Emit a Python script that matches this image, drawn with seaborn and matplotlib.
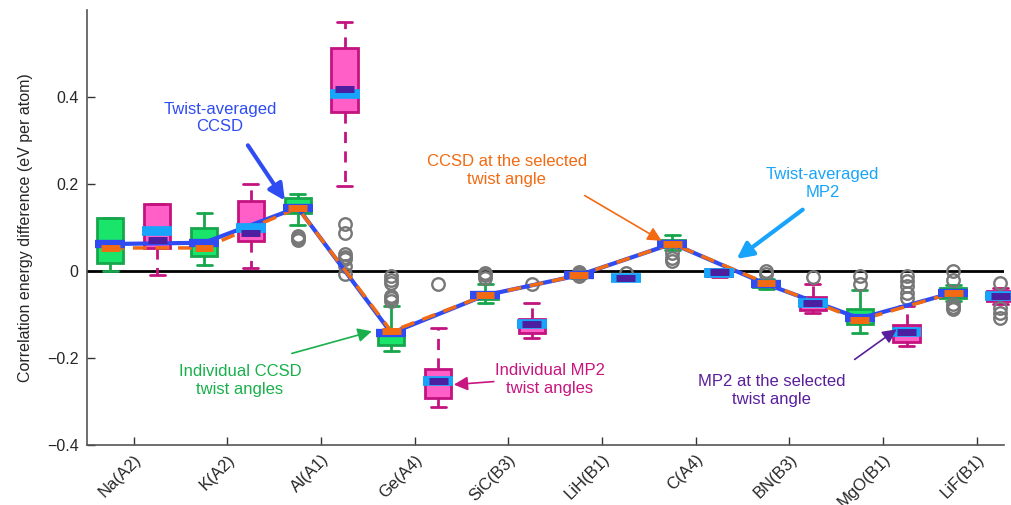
import numpy as np
import pandas as pd
import matplotlib
matplotlib.use("Agg")
import matplotlib.pyplot as plt
import seaborn as sns

# ---------------- data ----------------
categories = ["Na(A2)", "K(A2)", "Al(A1)", "Ge(A4)", "SiC(B3)",
              "LiH(B1)", "C(A4)", "BN(B3)", "MgO(B1)", "LiF(B1)"]

# CCSD individual twist angles (box statistics)
ccsd_whislo = [0.000, 0.014, 0.106, -0.183, -0.074, -0.016, 0.048, -0.041, -0.143, -0.069]
ccsd_q1     = [0.019, 0.035, 0.134, -0.171, -0.065, -0.014, 0.055, -0.037, -0.123, -0.062]
ccsd_q3     = [0.122, 0.100, 0.167, -0.135, -0.050, -0.007, 0.071, -0.023, -0.088, -0.040]
ccsd_whishi = [0.122, 0.134, 0.178, -0.081, -0.031, -0.004, 0.083, -0.018, -0.044, -0.032]
ccsd_fliers = [[], [], [0.072, 0.076, 0.080],
               [-0.012, -0.020, -0.028, -0.058, -0.063, -0.069],
               [-0.005, -0.010, -0.016], [-0.002, -0.007, -0.012],
               [0.041, 0.030, 0.023], [0.000, -0.007], [-0.012, -0.030],
               [0.000, -0.020, -0.077, -0.083, -0.088]]

# MP2 individual twist angles (box statistics)
mp2_whislo = [-0.009, 0.008, 0.196, -0.312, -0.153, -0.018, -0.014, -0.097, -0.173, -0.076]
mp2_q1     = [0.053, 0.069, 0.365, -0.293, -0.143, -0.017, -0.012, -0.090, -0.164, -0.070]
mp2_q3     = [0.155, 0.162, 0.513, -0.225, -0.111, -0.013, 0.004, -0.060, -0.125, -0.046]
mp2_whishi = [0.155, 0.199, 0.573, -0.131, -0.074, -0.012, 0.005, -0.030, -0.081, -0.040]
mp2_fliers = [[], [], [0.108, 0.088, 0.039, 0.033, 0.028, 0.011, -0.007],
              [-0.031], [-0.030], [-0.005], [], [-0.014],
              [-0.012, -0.022, -0.035, -0.050, -0.062],
              [-0.027, -0.085, -0.097, -0.108]]

ccsd_twist_avg = [0.062, 0.065, 0.146, -0.143, -0.056, -0.010, 0.063, -0.030, -0.109, -0.050]
ccsd_selected  = [0.053, 0.053, 0.145, -0.139, -0.056, -0.010, 0.063, -0.028, -0.113, -0.050]
mp2_twist_avg  = [0.093, 0.100, 0.407, -0.252, -0.123, -0.016, -0.004, -0.074, -0.140, -0.057]
mp2_selected   = [0.072, 0.088, 0.418, -0.252, -0.123, -0.016, -0.003, -0.074, -0.140, -0.057]

# ---------------- style ----------------
sns.set_theme(style="ticks")
plt.rcParams["font.family"] = ["Liberation Sans", "DejaVu Sans"]

C_BLUE = "#2f4cf2"
C_LBLUE = "#18a4fa"
C_ORANGE = "#f26a12"
C_PURPLE = "#4b1fa0"
C_GFILL, C_GEDGE = "#18e56a", "#17a64c"
C_PFILL, C_PEDGE = "#ff5fc6", "#c3137f"

fig = plt.figure(figsize=(10.11, 5.05), dpi=100)
ax = fig.add_axes([0.086, 0.119, 0.907, 0.861])

n = len(categories)
pos = np.arange(n)
off = 0.25
pos_c = pos - off
pos_m = pos + off


def stats(lo, q1, q3, hi, med, fl):
    return [dict(whislo=a, q1=b, med=m, q3=c, whishi=d, fliers=np.array(f))
            for a, b, c, d, m, f in zip(lo, q1, q3, hi, med, fl)]


flier_style = dict(marker="o", markerfacecolor="none", markeredgecolor="#777777",
                   markersize=9, markeredgewidth=1.7)

bc = ax.bxp(stats(ccsd_whislo, ccsd_q1, ccsd_q3, ccsd_whishi, ccsd_selected, ccsd_fliers),
            positions=pos_c, widths=0.28, capwidths=0.16, patch_artist=True,
            boxprops=dict(facecolor=C_GFILL, edgecolor=C_GEDGE, linewidth=2),
            whiskerprops=dict(color=C_GEDGE, linewidth=2),
            capprops=dict(color=C_GEDGE, linewidth=2),
            medianprops=dict(color=C_GEDGE, linewidth=0),
            flierprops=flier_style, manage_ticks=False)
bm = ax.bxp(stats(mp2_whislo, mp2_q1, mp2_q3, mp2_whishi, mp2_selected, mp2_fliers),
            positions=pos_m, widths=0.28, capwidths=0.16, patch_artist=True,
            boxprops=dict(facecolor=C_PFILL, edgecolor=C_PEDGE, linewidth=2),
            whiskerprops=dict(color=C_PEDGE, linewidth=2, linestyle=(0, (4, 3))),
            capprops=dict(color=C_PEDGE, linewidth=2),
            medianprops=dict(color=C_PEDGE, linewidth=0),
            flierprops=flier_style, manage_ticks=False)
for grp in (bc, bm):
    for key in grp:
        for art in grp[key]:
            art.set_clip_on(False)
            art.set_zorder(2)

ax.axhline(0, color="black", lw=2, zorder=1.5)

df = pd.DataFrame({"x": pos_c, "avg": ccsd_twist_avg, "sel": ccsd_selected})
sns.lineplot(data=df, x="x", y="avg", ax=ax, color=C_BLUE, lw=3, zorder=3,
             sort=False, estimator=None)
sns.lineplot(data=df, x="x", y="sel", ax=ax, color=C_ORANGE, lw=2.5, zorder=4,
             sort=False, estimator=None, dashes=False)
ax.lines[-1].set_linestyle((0, (4, 2.5)))

# value bars
ax.hlines(ccsd_twist_avg, pos_c - 0.16, pos_c + 0.16, color=C_BLUE, lw=6, zorder=5)
ax.hlines(ccsd_selected, pos_c - 0.10, pos_c + 0.10, color=C_ORANGE, lw=5, zorder=6)
ax.hlines(mp2_twist_avg, pos_m - 0.16, pos_m + 0.16, color=C_LBLUE, lw=7, zorder=5,
          clip_on=False)
ax.hlines(mp2_selected, pos_m - 0.10, pos_m + 0.10, color=C_PURPLE, lw=5, zorder=6,
          clip_on=False)

ax.set_xlim(-0.5, 9.29)
ax.set_ylim(-0.4, 0.6)
ax.set_yticks([-0.4, -0.2, 0, 0.2, 0.4])
ax.set_yticklabels(["\u22120.4", "\u22120.2", "0", "0.2", "0.4"], fontsize=11.5)
ax.set_xticks(pos)
ax.set_xticklabels(categories, rotation=45, ha="right", rotation_mode="anchor",
                   fontsize=12)
ax.tick_params(direction="in", length=6, width=1, color="#333333", pad=6)
ax.tick_params(axis="x", pad=5)
ax.set_xlabel("")
ax.set_ylabel("Correlation energy difference (eV per atom)", fontsize=11.5, labelpad=10)
for s in ("top", "right"):
    ax.spines[s].set_visible(False)
for s in ("left", "bottom"):
    ax.spines[s].set_linewidth(1.2)
    ax.spines[s].set_color("#555555")


def px(x, y):
    return ((x - 87) / 93.7 - 0.5, (270 - y) / 432.5)


def arrow_text(text, xy, color):
    ax.text(*px(*xy), text, color=color, fontsize=12, ha="center", va="center",
            linespacing=1.2, zorder=10)


def arrow(p0, p1, color, lw, head):
    ax.annotate("", xy=px(*p1), xytext=px(*p0),
                arrowprops=dict(arrowstyle=f"-|>,head_length={head},head_width={head*0.5}",
                                color=color, lw=lw, shrinkA=0, shrinkB=0),
                annotation_clip=False, zorder=10)


arrow_text("Twist-averaged\nCCSD", (220, 118), C_BLUE)
arrow((248, 145), (285, 200), C_BLUE, 3, 0.8)

arrow_text("CCSD at the selected\ntwist angle", (507, 170), C_ORANGE)
arrow((585, 195), (662, 240), C_ORANGE, 1.2, 0.7)

arrow_text("Twist-averaged\nMP2", (823, 183), C_LBLUE)
arrow((803, 209), (737, 258), C_LBLUE, 3, 0.8)

arrow_text("Individual CCSD\ntwist angles", (240, 379), "#19b04c")
arrow((292, 352), (372, 330), "#19b04c", 1.2, 0.7)

arrow_text("Individual MP2\ntwist angles", (550, 378), "#c8157f")
arrow((494, 380), (454, 383), "#c8157f", 1.2, 0.7)

arrow_text("MP2 at the selected\ntwist angle", (772, 389), "#5a1f9c")
arrow((855, 358), (897, 328), "#5a1f9c", 1.2, 0.7)

fig.savefig("out.png", dpi=100)
